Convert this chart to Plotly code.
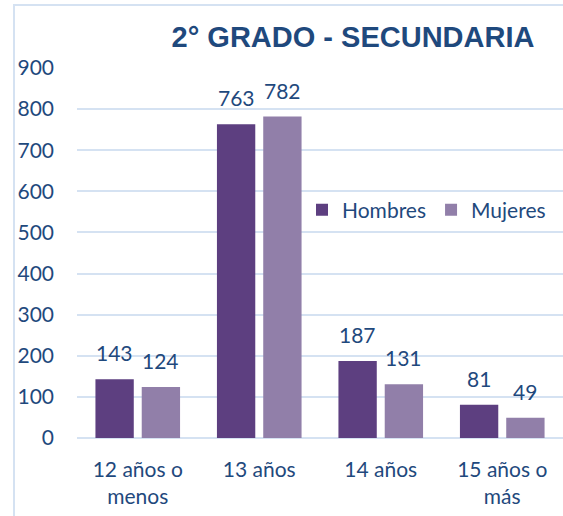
import plotly.graph_objects as go

categories = ["12 años o<br>menos", "13 años", "14 años", "15 años o<br>más"]
hombres = [143, 763, 187, 81]
mujeres = [124, 782, 131, 49]
series_names = ["Hombres", "Mujeres"]
y_ticks = [0, 100, 200, 300, 400, 500, 600, 700, 800, 900]

TXT = "#1F497D"
GRID = "#D5E2F2"
FONT = "Lato"

fig = go.Figure()
fig.add_bar(x=categories, y=hombres, name=series_names[0],
            marker=dict(color="#5D3F80", line=dict(width=0)))
fig.add_bar(x=categories, y=mujeres, name=series_names[1],
            marker=dict(color="#917FA9", line=dict(width=0)))

annotations = []
for vals, shift in ((hombres, -23), (mujeres, 23)):
    for c, v in zip(categories, vals):
        annotations.append(dict(x=c, y=v, xref="x", yref="y", text=str(v),
                                showarrow=False, xshift=shift, yshift=12,
                                yanchor="bottom",
                                font=dict(family=FONT, size=21, color=TXT)))

W, H = 563, 516
ml, mr, mt, mb = 77, 0, 68, 78
pw, ph = W - ml - mr, H - mt - mb

fig.update_layout(
    width=W, height=H,
    margin=dict(l=ml, r=mr, t=mt, b=mb),
    paper_bgcolor="white", plot_bgcolor="white",
    barmode="group", bargap=0.238, bargroupgap=0.172,
    title=dict(text="<b>2° GRADO - SECUNDARIA</b>", x=(353 - ml) / pw, xanchor="center",
               xref="paper", y=1 - 37 / H, yanchor="middle", yref="container",
               font=dict(family="Liberation Sans", size=29, color=TXT)),
    legend=dict(orientation="h", x=(302 - ml) / pw, y=(438 - 210) / ph,
                xanchor="left", yanchor="middle", bgcolor="rgba(255,255,255,0)",
                font=dict(family=FONT, size=21, color=TXT), traceorder="normal"),
    annotations=annotations,
    showlegend=True,
    shapes=[dict(type="rect", xref="paper", yref="paper",
                 x0=(14 - ml) / pw, x1=1.2, y0=-0.5, y1=1 + (mt - 5) / ph,
                 line=dict(color=GRID, width=2), layer="below")],
)
fig.update_xaxes(type="category", showgrid=False, showline=False, ticks="",
                 ticklabelstandoff=17,
                 tickfont=dict(family=FONT, size=21, color=TXT))
fig.update_yaxes(range=[0, 900], tickvals=y_ticks, showgrid=True, gridcolor=GRID,
                 gridwidth=2, zeroline=True, zerolinecolor=GRID, zerolinewidth=2,
                 showline=False, ticks="", ticklabelstandoff=22,
                 tickfont=dict(family=FONT, size=21, color=TXT))

fig.write_html("out.html", config={"displayModeBar": False},
               post_script="document.body.style.margin='0';document.body.style.overflow='hidden';")
